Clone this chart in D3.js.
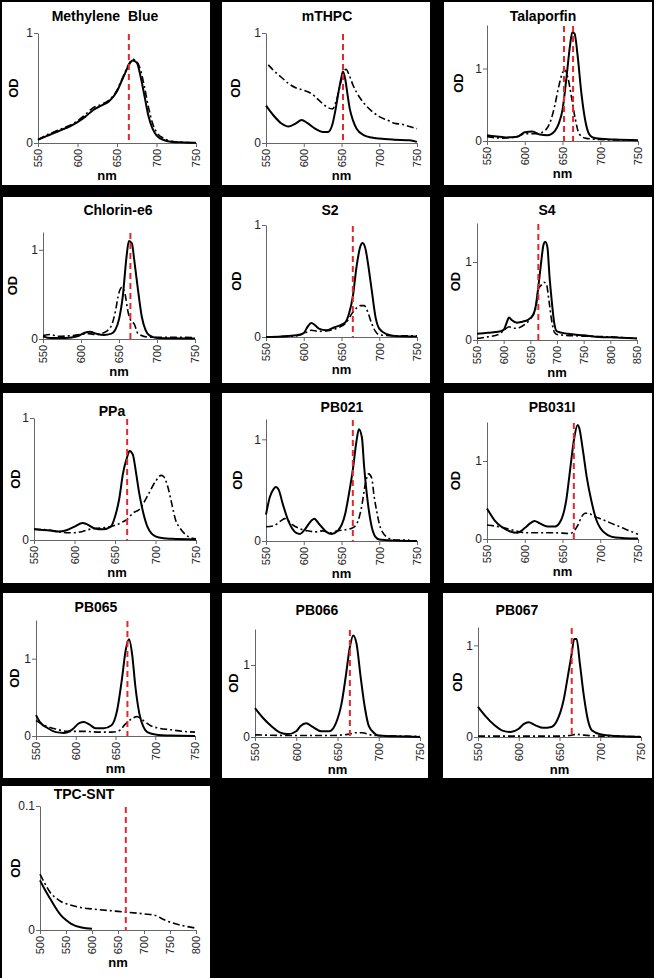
<!DOCTYPE html>
<html><head><meta charset="utf-8">
<script src="https://cdn.jsdelivr.net/npm/d3@7"></script>
<style>body{margin:0;background:#000}svg{display:block}</style>
</head><body>
<svg id="c" width="654" height="978"></svg>
<script>
// ---------- DATA ----------
const titles = ["Methylene Blue","mTHPC","Talaporfin","Chlorin-e6","S2","S4","PPa","PB021","PB031I","PB065","PB066","PB067","TPC-SNT"];
const xTicksStd = [550,600,650,700,750];
const xTicksS4 = [550,600,650,700,750,800,850];
const xTicksTPC = [500,550,600,650,700,750,800];
const yTicksStd = [0,1];
const yTicksTPC = [0,0.1];
const yMaxes = [1,1,1.6,1.2,1,1.5,1,1.2,1.5,1.5,1.5,1.2,0.1];
const redLines = [[665],[652],[652,664],[665],[665],[665],[665],[665],[665],[665],[665],[665],[665]];

const mbSolid = [[550,0.03],[560,0.06],[570,0.09],[580,0.12],[590,0.15],[600,0.19],[610,0.24],[620,0.3],[630,0.34],[640,0.38],[650,0.47],[655,0.55],[660,0.63],[665,0.71],[670,0.75],[675,0.73],[680,0.6],[685,0.42],[690,0.24],[695,0.13],[700,0.07],[710,0.025],[720,0.01],[735,0.005],[750,0.002]];
const mbDash = [[550,0.03],[560,0.07],[570,0.1],[580,0.13],[590,0.16],[600,0.2],[610,0.26],[620,0.32],[630,0.35],[640,0.39],[650,0.48],[655,0.56],[660,0.64],[665,0.72],[670,0.76],[675,0.74],[680,0.66],[685,0.5],[690,0.32],[695,0.18],[700,0.1],[710,0.04],[720,0.015],[735,0.005],[750,0.002]];
const mthpcSolid = [[550,0.34],[560,0.25],[570,0.18],[580,0.15],[590,0.18],[597,0.21],[605,0.18],[615,0.13],[625,0.1],[632,0.1],[638,0.17],[642,0.3],[646,0.46],[650,0.6],[652,0.65],[655,0.58],[658,0.44],[661,0.31],[665,0.21],[670,0.13],[680,0.07],[690,0.05],[700,0.04],[720,0.03],[740,0.025],[750,0.01]];
const mthpcDash = [[553,0.71],[560,0.66],[570,0.6],[580,0.54],[590,0.5],[600,0.48],[610,0.45],[620,0.39],[630,0.33],[638,0.31],[643,0.38],[648,0.52],[652,0.63],[656,0.67],[660,0.62],[665,0.53],[670,0.46],[680,0.36],[690,0.29],[700,0.24],[710,0.21],[720,0.18],[730,0.17],[740,0.15],[750,0.13]];
const talaSolid = [[550,0.08],[560,0.065],[575,0.05],[590,0.06],[600,0.12],[610,0.13],[620,0.09],[630,0.08],[640,0.14],[645,0.24],[650,0.43],[655,0.85],[660,1.32],[663,1.5],[666,1.48],[670,1.18],[675,0.66],[680,0.29],[685,0.1],[690,0.05],[700,0.03],[720,0.02],[750,0.01]];
const talaDash = [[550,0.06],[570,0.04],[590,0.06],[600,0.1],[615,0.1],[625,0.13],[635,0.3],[640,0.5],[645,0.75],[650,0.94],[653,0.98],[657,0.88],[662,0.6],[667,0.3],[672,0.1],[680,0.04],[700,0.02],[750,0.01]];
const chlSolid = [[550,0.03],[560,0.01],[580,0.01],[595,0.03],[605,0.07],[612,0.08],[620,0.06],[630,0.045],[640,0.06],[645,0.1],[650,0.22],[655,0.48],[660,0.93],[663,1.1],[667,1.07],[670,0.89],[675,0.55],[680,0.25],[685,0.1],[690,0.04],[700,0.01],[750,0.005]];
const chlDash = [[550,0.04],[560,0.05],[570,0.03],[590,0.04],[610,0.06],[620,0.05],[630,0.07],[640,0.15],[645,0.3],[650,0.52],[654,0.58],[658,0.5],[662,0.3],[666,0.2],[670,0.17],[675,0.06],[690,0.02],[720,0.02],[750,0.015]];
const s2Solid = [[550,0],[570,0.005],[590,0.015],[600,0.035],[605,0.09],[610,0.125],[615,0.105],[620,0.075],[630,0.06],[640,0.085],[650,0.11],[655,0.13],[660,0.21],[665,0.36],[670,0.63],[675,0.81],[678,0.84],[682,0.78],[685,0.66],[690,0.42],[695,0.18],[700,0.075],[710,0.025],[720,0.01],[750,0.005]];
const s2Dash = [[550,0],[590,0.01],[600,0.03],[610,0.06],[620,0.05],[630,0.055],[645,0.08],[655,0.12],[665,0.22],[670,0.26],[675,0.28],[680,0.28],[685,0.22],[690,0.12],[695,0.05],[700,0.02],[720,0.01],[750,0.01]];
const s4Solid = [[550,0.08],[570,0.094],[590,0.105],[600,0.13],[605,0.21],[610,0.29],[615,0.255],[625,0.22],[635,0.235],[645,0.255],[655,0.32],[660,0.43],[665,0.68],[670,0.98],[675,1.23],[678,1.26],[682,1.19],[686,0.81],[690,0.51],[695,0.21],[700,0.11],[720,0.08],[750,0.06],[780,0.04],[800,0.035],[820,0.03],[850,0.02]];
const s4Dash = [[550,0.02],[570,0.04],[590,0.07],[600,0.12],[610,0.17],[620,0.15],[630,0.16],[640,0.2],[650,0.27],[660,0.4],[665,0.65],[670,0.7],[675,0.74],[680,0.72],[685,0.5],[690,0.25],[695,0.1],[700,0.07],[750,0.05],[800,0.04],[850,0.02]];
const ppaSolid = [[550,0.088],[570,0.077],[580,0.07],[590,0.08],[600,0.11],[610,0.14],[615,0.13],[625,0.095],[635,0.088],[645,0.11],[650,0.19],[655,0.33],[660,0.55],[665,0.68],[668,0.73],[672,0.7],[676,0.55],[680,0.38],[685,0.22],[690,0.11],[695,0.055],[700,0.03],[710,0.014],[720,0.01],[750,0.005]];
const ppaDash = [[550,0.09],[570,0.08],[590,0.06],[600,0.06],[610,0.07],[620,0.09],[635,0.1],[650,0.12],[660,0.15],[665,0.17],[672,0.22],[680,0.25],[690,0.36],[700,0.48],[707,0.53],[710,0.52],[715,0.44],[720,0.3],[725,0.16],[730,0.1],[740,0.03],[750,0.01]];
const pb021Solid = [[550,0.26],[555,0.43],[560,0.51],[563,0.53],[567,0.5],[572,0.37],[580,0.19],[590,0.08],[595,0.07],[602,0.12],[610,0.2],[614,0.22],[620,0.17],[630,0.09],[637,0.07],[645,0.1],[655,0.27],[660,0.47],[665,0.7],[670,0.99],[673,1.1],[677,1.02],[680,0.73],[685,0.37],[690,0.14],[695,0.04],[700,0.015],[720,0.005],[750,0]];
const pb021Dash = [[550,0.14],[560,0.15],[570,0.2],[575,0.22],[585,0.16],[595,0.12],[605,0.1],[615,0.09],[625,0.1],[635,0.08],[645,0.1],[655,0.11],[665,0.13],[672,0.2],[677,0.35],[682,0.58],[686,0.66],[690,0.62],[693,0.45],[697,0.28],[700,0.17],[705,0.08],[710,0.04],[720,0.01],[740,0.01]];
const pb031Solid = [[550,0.39],[560,0.24],[570,0.15],[580,0.1],[590,0.08],[600,0.14],[607,0.2],[613,0.23],[620,0.2],[630,0.16],[640,0.16],[648,0.24],[655,0.5],[660,0.88],[665,1.26],[670,1.46],[672,1.43],[677,1.14],[682,0.8],[688,0.5],[695,0.24],[700,0.14],[710,0.05],[720,0.02],[750,0.005]];
const pb031Dash = [[550,0.18],[570,0.15],[590,0.1],[600,0.08],[620,0.08],[640,0.08],[660,0.07],[665,0.1],[670,0.17],[675,0.28],[680,0.33],[685,0.33],[690,0.3],[700,0.26],[710,0.22],[720,0.18],[730,0.14],[740,0.1],[750,0.06]];
const pb065Solid = [[550,0.27],[555,0.18],[565,0.1],[575,0.05],[585,0.04],[595,0.08],[605,0.17],[610,0.18],[617,0.15],[625,0.1],[635,0.1],[645,0.14],[652,0.33],[658,0.73],[663,1.12],[667,1.25],[671,1.05],[675,0.64],[680,0.29],[685,0.12],[690,0.05],[700,0.02],[720,0.005],[750,0]];
const pb065Dash = [[550,0.2],[560,0.14],[575,0.09],[590,0.06],[610,0.06],[630,0.05],[645,0.05],[655,0.07],[662,0.15],[670,0.22],[677,0.25],[685,0.2],[695,0.13],[705,0.1],[720,0.08],[735,0.06],[750,0.05]];
const pb066Solid = [[550,0.4],[560,0.26],[570,0.15],[580,0.065],[590,0.04],[600,0.08],[605,0.15],[612,0.19],[620,0.14],[630,0.08],[640,0.08],[648,0.19],[655,0.47],[660,0.84],[665,1.25],[669,1.41],[673,1.3],[678,0.84],[683,0.42],[688,0.15],[695,0.05],[700,0.02],[720,0.01],[750,0]];
const pb066Dash = [[550,0.03],[600,0.02],[640,0.02],[665,0.04],[672,0.06],[680,0.06],[690,0.03],[700,0.02],[750,0.01]];
const pb067Solid = [[550,0.33],[560,0.22],[570,0.13],[580,0.07],[590,0.055],[600,0.09],[606,0.14],[612,0.16],[620,0.13],[630,0.1],[640,0.11],[647,0.18],[655,0.4],[660,0.65],[665,0.91],[668,1.07],[671,1.07],[675,0.8],[680,0.44],[685,0.18],[690,0.07],[700,0.03],[720,0.01],[750,0]];
const pb067Dash = [[550,0.01],[600,0.01],[650,0.01],[665,0.02],[670,0.03],[680,0.02],[700,0.01],[750,0.005]];
const tpcSolid = [[500,0.04],[510,0.032],[520,0.025],[530,0.018],[540,0.012],[550,0.008],[560,0.005],[580,0.002],[600,0.001]];
const tpcDash = [[500,0.045],[510,0.037],[520,0.03],[530,0.026],[540,0.023],[560,0.02],[580,0.018],[600,0.017],[650,0.015],[700,0.013],[720,0.012],[740,0.008],[760,0.005],[780,0.003],[800,0.0015]];

const solids = [mbSolid,mthpcSolid,talaSolid,chlSolid,s2Solid,s4Solid,ppaSolid,pb021Solid,pb031Solid,pb065Solid,pb066Solid,pb067Solid,tpcSolid];
const dashes = [mbDash,mthpcDash,talaDash,chlDash,s2Dash,s4Dash,ppaDash,pb021Dash,pb031Dash,pb065Dash,pb066Dash,pb067Dash,tpcDash];
const xTickSets = [xTicksStd,xTicksStd,xTicksStd,xTicksStd,xTicksStd,xTicksS4,xTicksStd,xTicksStd,xTicksStd,xTicksStd,xTicksStd,xTicksStd,xTicksTPC];

// ---------- LAYOUT ----------
const layout = [
 {box:[2,2,210,185], plot:[38,196,33,143], title:[105,16], od:13, nm:107},
 {box:[222,2,430,185], plot:[266,417,33,143], title:[327,16], od:235},
 {box:[444,2,652,185], plot:[487,638,25,141], title:[543,16], od:458},
 {box:[3,197,210,383], plot:[43,195,232,339], title:[118,210], od:12},
 {box:[222,197,430,383], plot:[266,417,225,337], title:[330,210], od:236},
 {box:[444,197,652,383], plot:[477,637,223,340], title:[547,210], od:455},
 {box:[3,393,210,583], plot:[34,196,418,540], title:[112,411], od:15, nm:117},
 {box:[222,393,430,583], plot:[266,417,419,541], title:[342,407], od:237},
 {box:[444,393,652,583], plot:[487,638,422,539], title:[552,407], od:455},
 {box:[3,593,210,778], plot:[36,195,620,736], title:[96,607], od:14},
 {box:[222,593,428,778], plot:[255,420,629,737], title:[317,610], od:233},
 {box:[443,593,652,778], plot:[478,641,627,737], title:[517,610], od:457},
 {box:[2,786,210,978], plot:[40,196,806,930], title:[84,794], od:15}
];

// ---------- DRAW ----------
const svg = d3.select('#c');
svg.append('rect').attr('width',654).attr('height',978).attr('fill','#000');
const FONT = 'Arial, "Liberation Sans", sans-serif';

titles.forEach((t,i)=>{
  const L = layout[i];
  const g = svg.append('g');
  g.append('rect').attr('x',L.box[0]).attr('y',L.box[1])
    .attr('width',L.box[2]-L.box[0]).attr('height',L.box[3]-L.box[1]).attr('fill','#fff');
  const xs = xTickSets[i];
  const x = d3.scaleLinear().domain([xs[0], xs[xs.length-1]]).range([L.plot[0],L.plot[1]]);
  const y = d3.scaleLinear().domain([0,yMaxes[i]]).range([L.plot[3],L.plot[2]]);

  const xa = g.append('g').attr('transform',`translate(0,${L.plot[3]})`)
    .call(d3.axisBottom(x).tickValues(xs).tickSize(4).tickSizeOuter(0).tickFormat(String));
  xa.select('.domain').attr('stroke','#666');
  xa.selectAll('.tick line').attr('stroke','#666');
  xa.selectAll('.tick text').attr('transform','rotate(-90)').attr('text-anchor','end')
    .attr('x',-6).attr('y',0).attr('dy','0.35em')
    .style('font-family',FONT).style('font-size','11px').attr('fill','#222');

  const ya = g.append('g').attr('transform',`translate(${L.plot[0]},0)`)
    .call(d3.axisLeft(y).tickValues(i===12?yTicksTPC:yTicksStd).tickSize(4).tickSizeOuter(0).tickFormat(String));
  ya.select('.domain').attr('stroke','#666');
  ya.selectAll('.tick line').attr('stroke','#666');
  ya.selectAll('.tick text').attr('x',-5).style('font-family',FONT).style('font-size','12px').attr('fill','#222');

  const line = d3.line().x(d=>x(d[0])).y(d=>y(d[1])).curve(d3.curveMonotoneX);
  g.append('path').datum(dashes[i]).attr('d',line).attr('fill','none')
    .attr('stroke','#000').attr('stroke-width',1.6).attr('stroke-dasharray','7,3,2,3');
  g.append('path').datum(solids[i]).attr('d',line).attr('fill','none')
    .attr('stroke','#000').attr('stroke-width',2);

  redLines[i].forEach(nm=>{
    g.append('line').attr('x1',x(nm)).attr('x2',x(nm))
      .attr('y1',L.plot[2]+1).attr('y2',L.plot[3])
      .attr('stroke','#e8262a').attr('stroke-width',2).attr('stroke-dasharray','6,4');
  });

  g.append('text').attr('x',L.title[0]).attr('y',L.title[1]).attr('dy','0.35em')
    .attr('text-anchor','middle').style('font-family',FONT).style('font-weight','bold')
    .style('font-size','14px').style('word-spacing','4px').text(t);
  const midY = (L.plot[2]+L.plot[3])/2;
  g.append('text').attr('transform',`translate(${L.od},${midY}) rotate(-90)`).attr('dy','0.35em')
    .attr('text-anchor','middle').style('font-family',FONT).style('font-weight','bold')
    .style('font-size','13px').text('OD');
  const nmX = L.nm !== undefined ? L.nm : (L.plot[0]+L.plot[1])/2;
  g.append('text').attr('x',nmX).attr('y',L.plot[3]+32).attr('dy','0.35em')
    .attr('text-anchor','middle').style('font-family',FONT).style('font-weight','bold')
    .style('font-size','13px').text('nm');
});
</script>
</body></html>
